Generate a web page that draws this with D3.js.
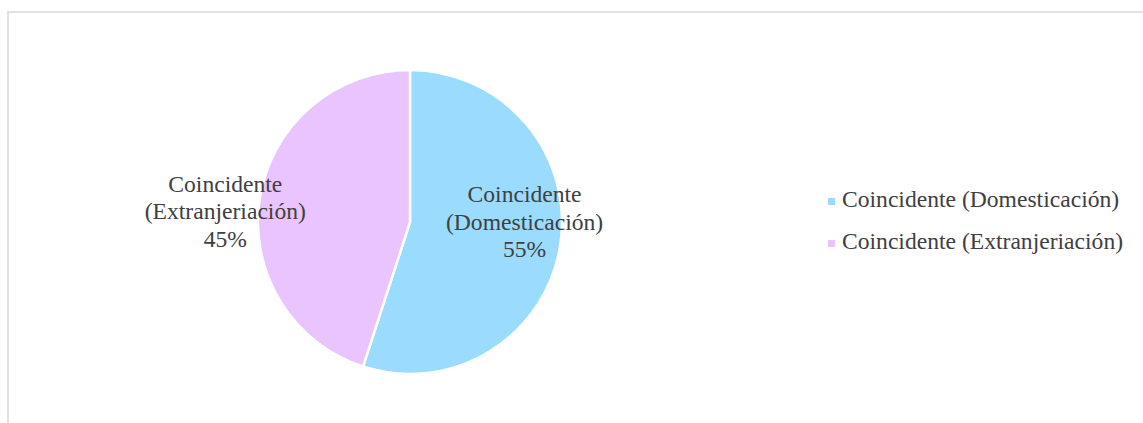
<!DOCTYPE html>
<html>
<head>
<meta charset="utf-8">
<script src="https://cdn.jsdelivr.net/npm/d3@7"></script>
<style>
  html, body { margin: 0; padding: 0; background: #fff; }
  svg { display: block; }
</style>
</head>
<body>
<svg id="chart" width="1143" height="423"></svg>
<script>
const categories = ["Coincidente (Domesticación)", "Coincidente (Extranjeriación)"];
const labelLines = [["Coincidente", "(Domesticación)"], ["Coincidente", "(Extranjeriación)"]];
const values = [55, 45];
const colors = ["#9BDBFE", "#E9C4FE"];

const W = 1143, H = 423;
const svg = d3.select("#chart");
const font = "'Liberation Serif', 'Times New Roman', serif";
const fs = 23.6;
const textColor = "#404040";

// chart border
svg.append("rect")
  .attr("x", 8).attr("y", 12)
  .attr("width", 1150).attr("height", 430)
  .attr("fill", "none").attr("stroke", "#d9d9d9").attr("stroke-width", 1.5);

const cx = 410, cy = 222, R = 152;
const pie = d3.pie().sort(null).value(d => d);
const arcs = pie(values);
const arc = d3.arc().innerRadius(0).outerRadius(R);

const g = svg.append("g").attr("transform", `translate(${cx},${cy})`);
g.selectAll("path.slice")
  .data(arcs)
  .enter().append("path")
  .attr("class", "slice")
  .attr("d", arc)
  .attr("fill", (d, i) => colors[i])
  .attr("stroke", "#fff")
  .attr("stroke-width", 2.5)
  .attr("stroke-linejoin", "round");

// data labels
const labelRadius = [116, 187];
const labelDy = [-38, -1];
const total = d3.sum(values);
const lineH = 27.5;
arcs.forEach((d, i) => {
  const la = d3.arc().innerRadius(labelRadius[i]).outerRadius(labelRadius[i]);
  const [lx, ly] = la.centroid(d);
  const t = g.append("text")
    .attr("x", lx).attr("y", ly + labelDy[i])
    .attr("text-anchor", "middle")
    .attr("font-family", font).attr("font-size", fs)
    .attr("fill", textColor);
  const lines = labelLines[i].concat([Math.round(values[i] / total * 100) + "%"]);
  lines.forEach((s, j) => {
    t.append("tspan").attr("x", lx).attr("dy", j === 0 ? 0 : lineH).text(s);
  });
});

// legend
const legend = svg.append("g").attr("transform", "translate(828,0)");
const legendY = [207, 249];
categories.forEach((c, i) => {
  legend.append("rect")
    .attr("x", 0).attr("y", legendY[i] - 9)
    .attr("width", 7).attr("height", 7)
    .attr("fill", colors[i]);
  legend.append("text")
    .attr("x", 14).attr("y", legendY[i])
    .attr("font-family", font).attr("font-size", fs)
    .attr("fill", textColor)
    .text(c);
});
</script>
</body>
</html>
